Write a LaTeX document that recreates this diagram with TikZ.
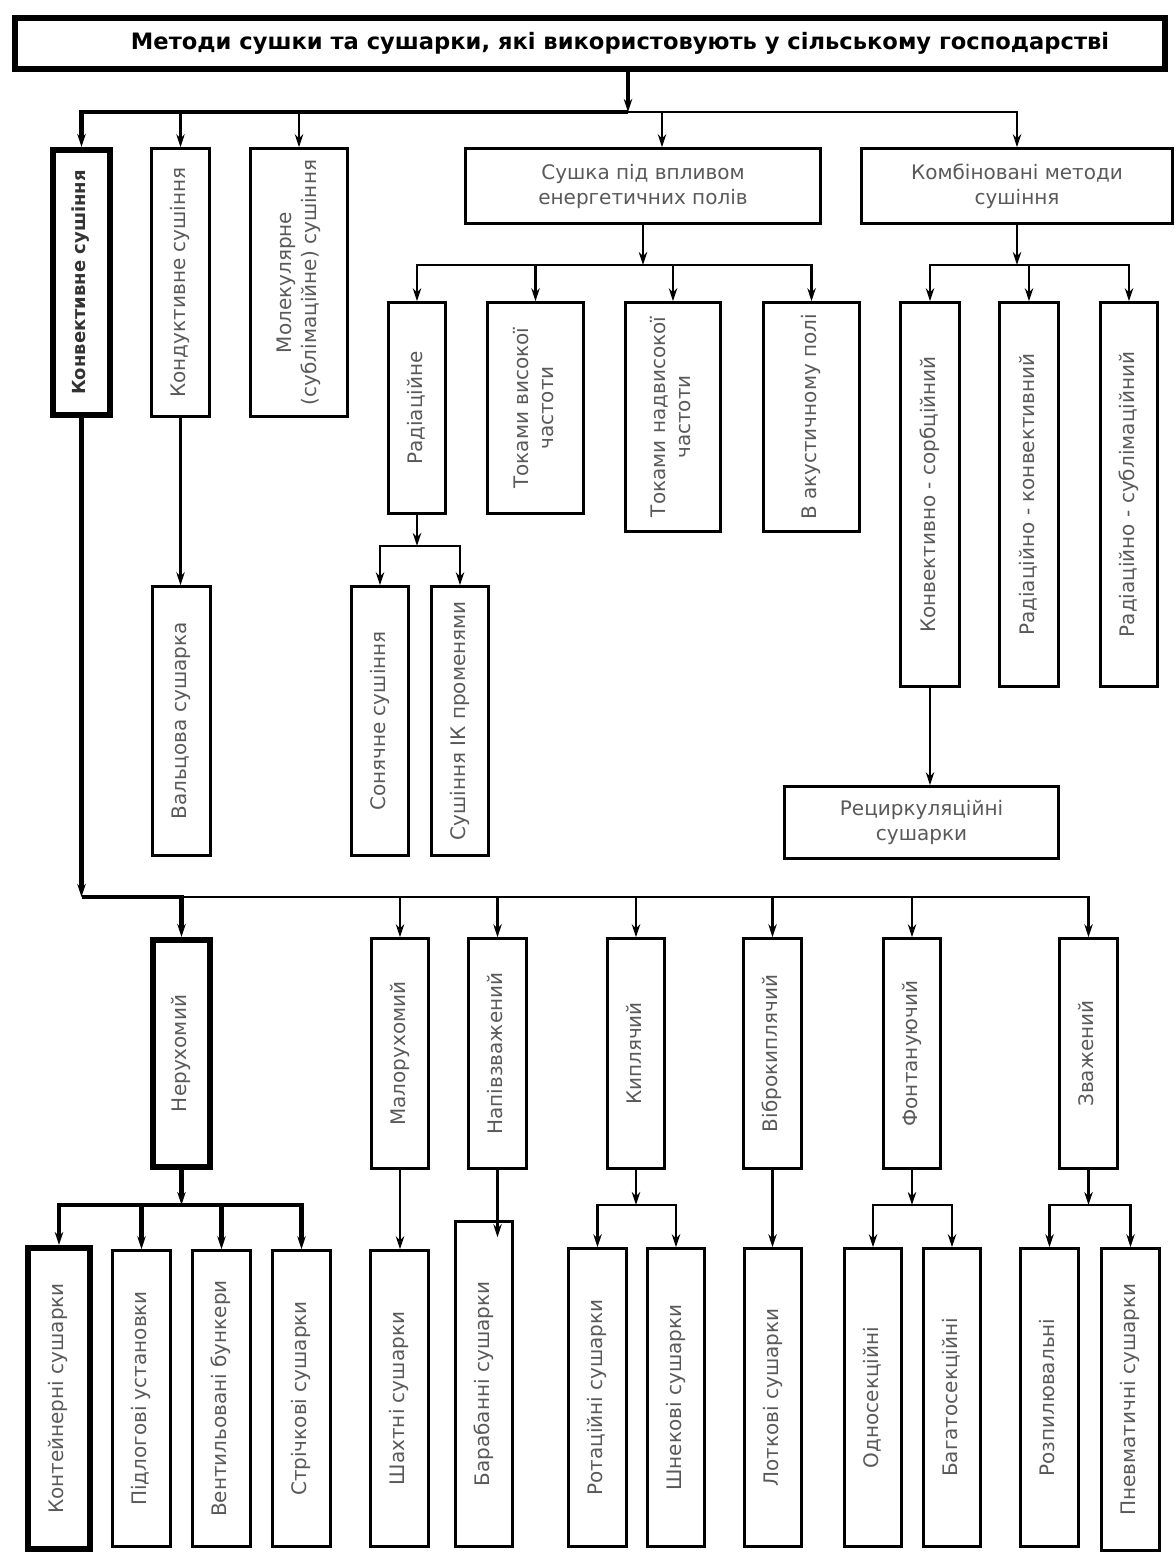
\documentclass[tikz,border=0pt]{standalone}
\usepackage{fontspec}
\setmainfont{DejaVu Sans}
\usetikzlibrary{positioning,arrows.meta,calc}

\newcommand{\vt}[1]{\rotatebox{90}{\begin{tabular}{@{}c@{}}#1\end{tabular}}}

\begin{document}
\begin{tikzpicture}[
  x=0.5pt, y=-0.5pt,
  >={Stealth[length=6.5pt,width=4.2pt]},
  box/.style={draw, line width=1.3pt, text=black!65, font=\fontsize{10}{12.5}\selectfont, inner sep=0pt, align=center},
  mainbox/.style={box, line width=3pt},
  wh/.style 2 args={minimum width=#1*0.5pt, minimum height=#2*0.5pt},
  link/.style={line width=1.2pt},
  mainlink/.style={line width=2.2pt},
]
\useasboundingbox (0,0) rectangle (1176,1556);

% ===== title =====
\node[mainbox,wh={1150}{51},text=black,font=\bfseries\fontsize{11.3}{13}\selectfont] (title) at (590,43.5)
  {\hspace*{30pt}Методи сушки та сушарки, які використовують у сільському господарстві};

% ===== level 1 =====
\node[mainbox,wh={57}{265},font=\bfseries\fontsize{9}{11}\selectfont,text=black!80] (konv) at (81.5,282.5) {\vt{Конвективне сушіння}};
\node[box,wh={58}{268}] (kond) at (180.5,282.5) {\vt{Кондуктивне сушіння}};
\node[box,wh={97}{268}] (mol) at (299,282.5) {\vt{Молекулярне\\(сублімаційне) сушіння}};
\node[box,wh={355}{75}] (pole) at (643,186) {Сушка під впливом\\енергетичних полів};
\node[box,wh={311}{75}] (komb) at (1017,186) {Комбіновані методи\\сушіння};

% ===== energy fields =====
\node[box,wh={57}{211}] (rad) at (417,408) {\vt{Радіаційне}};
\node[box,wh={96}{211}] (vch) at (535.5,408) {\vt{Токами високої\\частоти}};
\node[box,wh={95}{229}] (nvch) at (673,417) {\vt{Токами надвисокої\\частоти}};
\node[box,wh={96}{229}] (akust) at (811.5,417) {\vt{В акустичному полі}};
\node[box,wh={57}{269}] (son) at (380,721) {\vt{Сонячне сушіння}};
\node[box,wh={57}{269}] (ik) at (460,721) {\vt{Сушіння ІК променями}};
\node[box,wh={58}{269}] (valc) at (181.5,721) {\vt{Вальцова сушарка}};

% ===== combined methods =====
\node[box,wh={59}{384}] (ks) at (930,494.5) {\vt{Конвективно - сорбційний}};
\node[box,wh={59}{384}] (rk) at (1029,494.5) {\vt{Радіаційно - конвективний}};
\node[box,wh={57}{384}] (rs) at (1129,494.5) {\vt{Радіаційно - сублімаційний}};
\node[box,wh={274}{72}] (recyc) at (921.5,822.5) {Рециркуляційні\\сушарки};

% ===== layer states =====
\node[mainbox,wh={57}{227}] (nerux) at (181.5,1053.5) {\vt{Нерухомий}};
\node[box,wh={57}{230}] (malo) at (400,1053.5) {\vt{Малорухомий}};
\node[box,wh={58}{230}] (napiv) at (497.5,1053.5) {\vt{Напівзважений}};
\node[box,wh={57}{230}] (kyp) at (636,1053.5) {\vt{Киплячий}};
\node[box,wh={58}{230}] (vibro) at (772.5,1053.5) {\vt{Віброкиплячий}};
\node[box,wh={57}{230}] (font) at (912,1053.5) {\vt{Фонтануючий}};
\node[box,wh={58}{230}] (zvazh) at (1088.5,1053.5) {\vt{Зважений}};

% ===== dryers =====
\node[mainbox,wh={62}{301}] (kont) at (59,1398.5) {\vt{Контейнерні сушарки}};
\node[box,wh={58}{296}] (pidl) at (141.5,1398.5) {\vt{Підлогові установки}};
\node[box,wh={58}{296}] (vent) at (221.5,1398.5) {\vt{Вентильовані бункери}};
\node[box,wh={58}{296}] (stri) at (301.5,1398.5) {\vt{Стрічкові сушарки}};
\node[box,wh={58}{296}] (shax) at (399.5,1398.5) {\vt{Шахтні сушарки}};
\node[box,wh={57}{325}] (barab) at (484,1384) {\vt{Барабанні сушарки}};
\node[box,wh={58}{298}] (rot) at (597.5,1397.5) {\vt{Ротаційні сушарки}};
\node[box,wh={57}{298}] (shnek) at (676,1397.5) {\vt{Шнекові сушарки}};
\node[box,wh={57}{298}] (lotk) at (773,1397.5) {\vt{Лоткові сушарки}};
\node[box,wh={57}{298}] (odno) at (873,1397.5) {\vt{Односекційні}};
\node[box,wh={57}{298}] (bagato) at (952,1397.5) {\vt{Багатосекційні}};
\node[box,wh={58}{298}] (rozp) at (1049.5,1397.5) {\vt{Розпилювальні}};
\node[box,wh={58}{302}] (pnevm) at (1130.5,1399.5) {\vt{Пневматичні сушарки}};

% ===== bus points =====
\coordinate (bus1) at (628,112);
\coordinate (pin) at ($(pole.north)+(19,0)$);
\coordinate (bus2) at (643,265);
\coordinate (bus3) at (1017,265);
\coordinate (bus4) at (417,546);
\coordinate (bus5) at (81.5,897);
\coordinate (bus6) at (181.5,1205);
\coordinate (bus7) at (636,1205);
\coordinate (bus8) at (912,1205);
\coordinate (bus9) at (1088.5,1205);

% ===== arrows =====
% title -> methods
\draw[mainlink,->] (title.south -| bus1) -- (bus1);
\draw[mainlink,->] (bus1) -| (konv.north);
\foreach \n in {kond,mol,komb} \draw[link,->] (bus1) -| (\n.north);
\draw[link,->] (bus1) -| (pin);
% energy fields
\draw[link,->] (pole.south) -- (bus2);
\foreach \n in {rad,vch,nvch,akust} \draw[link,->] (bus2) -| (\n.north);
\draw[link,->] (rad.south) -- (bus4);
\foreach \n in {son,ik} \draw[link,->] (bus4) -| (\n.north);
\draw[link,->] (kond.south) -- (kond.south |- valc.north);
% combined
\draw[link,->] (komb.south) -- (bus3);
\foreach \n in {ks,rk,rs} \draw[link,->] (bus3) -| (\n.north);
\draw[link,->] (ks.south) -- (ks.south |- recyc.north);
% convective -> layer states
\draw[mainlink,->] (konv.south) -- (bus5);
\draw[mainlink,->] (bus5) -| (nerux.north);
\foreach \n in {malo,napiv,kyp,vibro,font,zvazh} \draw[link,->] (bus5) -| (\n.north);
% layer states -> dryers
\draw[mainlink,->] (nerux.south) -- (bus6);
\foreach \n in {kont,pidl,vent,stri} \draw[mainlink,->] (bus6) -| (\n.north);
\draw[link,->] (malo.south) -- (malo.south |- shax.north);
\draw[link,->] (napiv.south) -- ($(napiv.south |- barab.north)+(0,17)$);
\draw[link,->] (kyp.south) -- (bus7);
\foreach \n in {rot,shnek} \draw[link,->] (bus7) -| (\n.north);
\draw[link,->] (vibro.south) -- (vibro.south |- lotk.north);
\draw[link,->] (font.south) -- (bus8);
\foreach \n in {odno,bagato} \draw[link,->] (bus8) -| (\n.north);
\draw[link,->] (zvazh.south) -- (bus9);
\foreach \n in {rozp,pnevm} \draw[link,->] (bus9) -| (\n.north);
\end{tikzpicture}
\end{document}
